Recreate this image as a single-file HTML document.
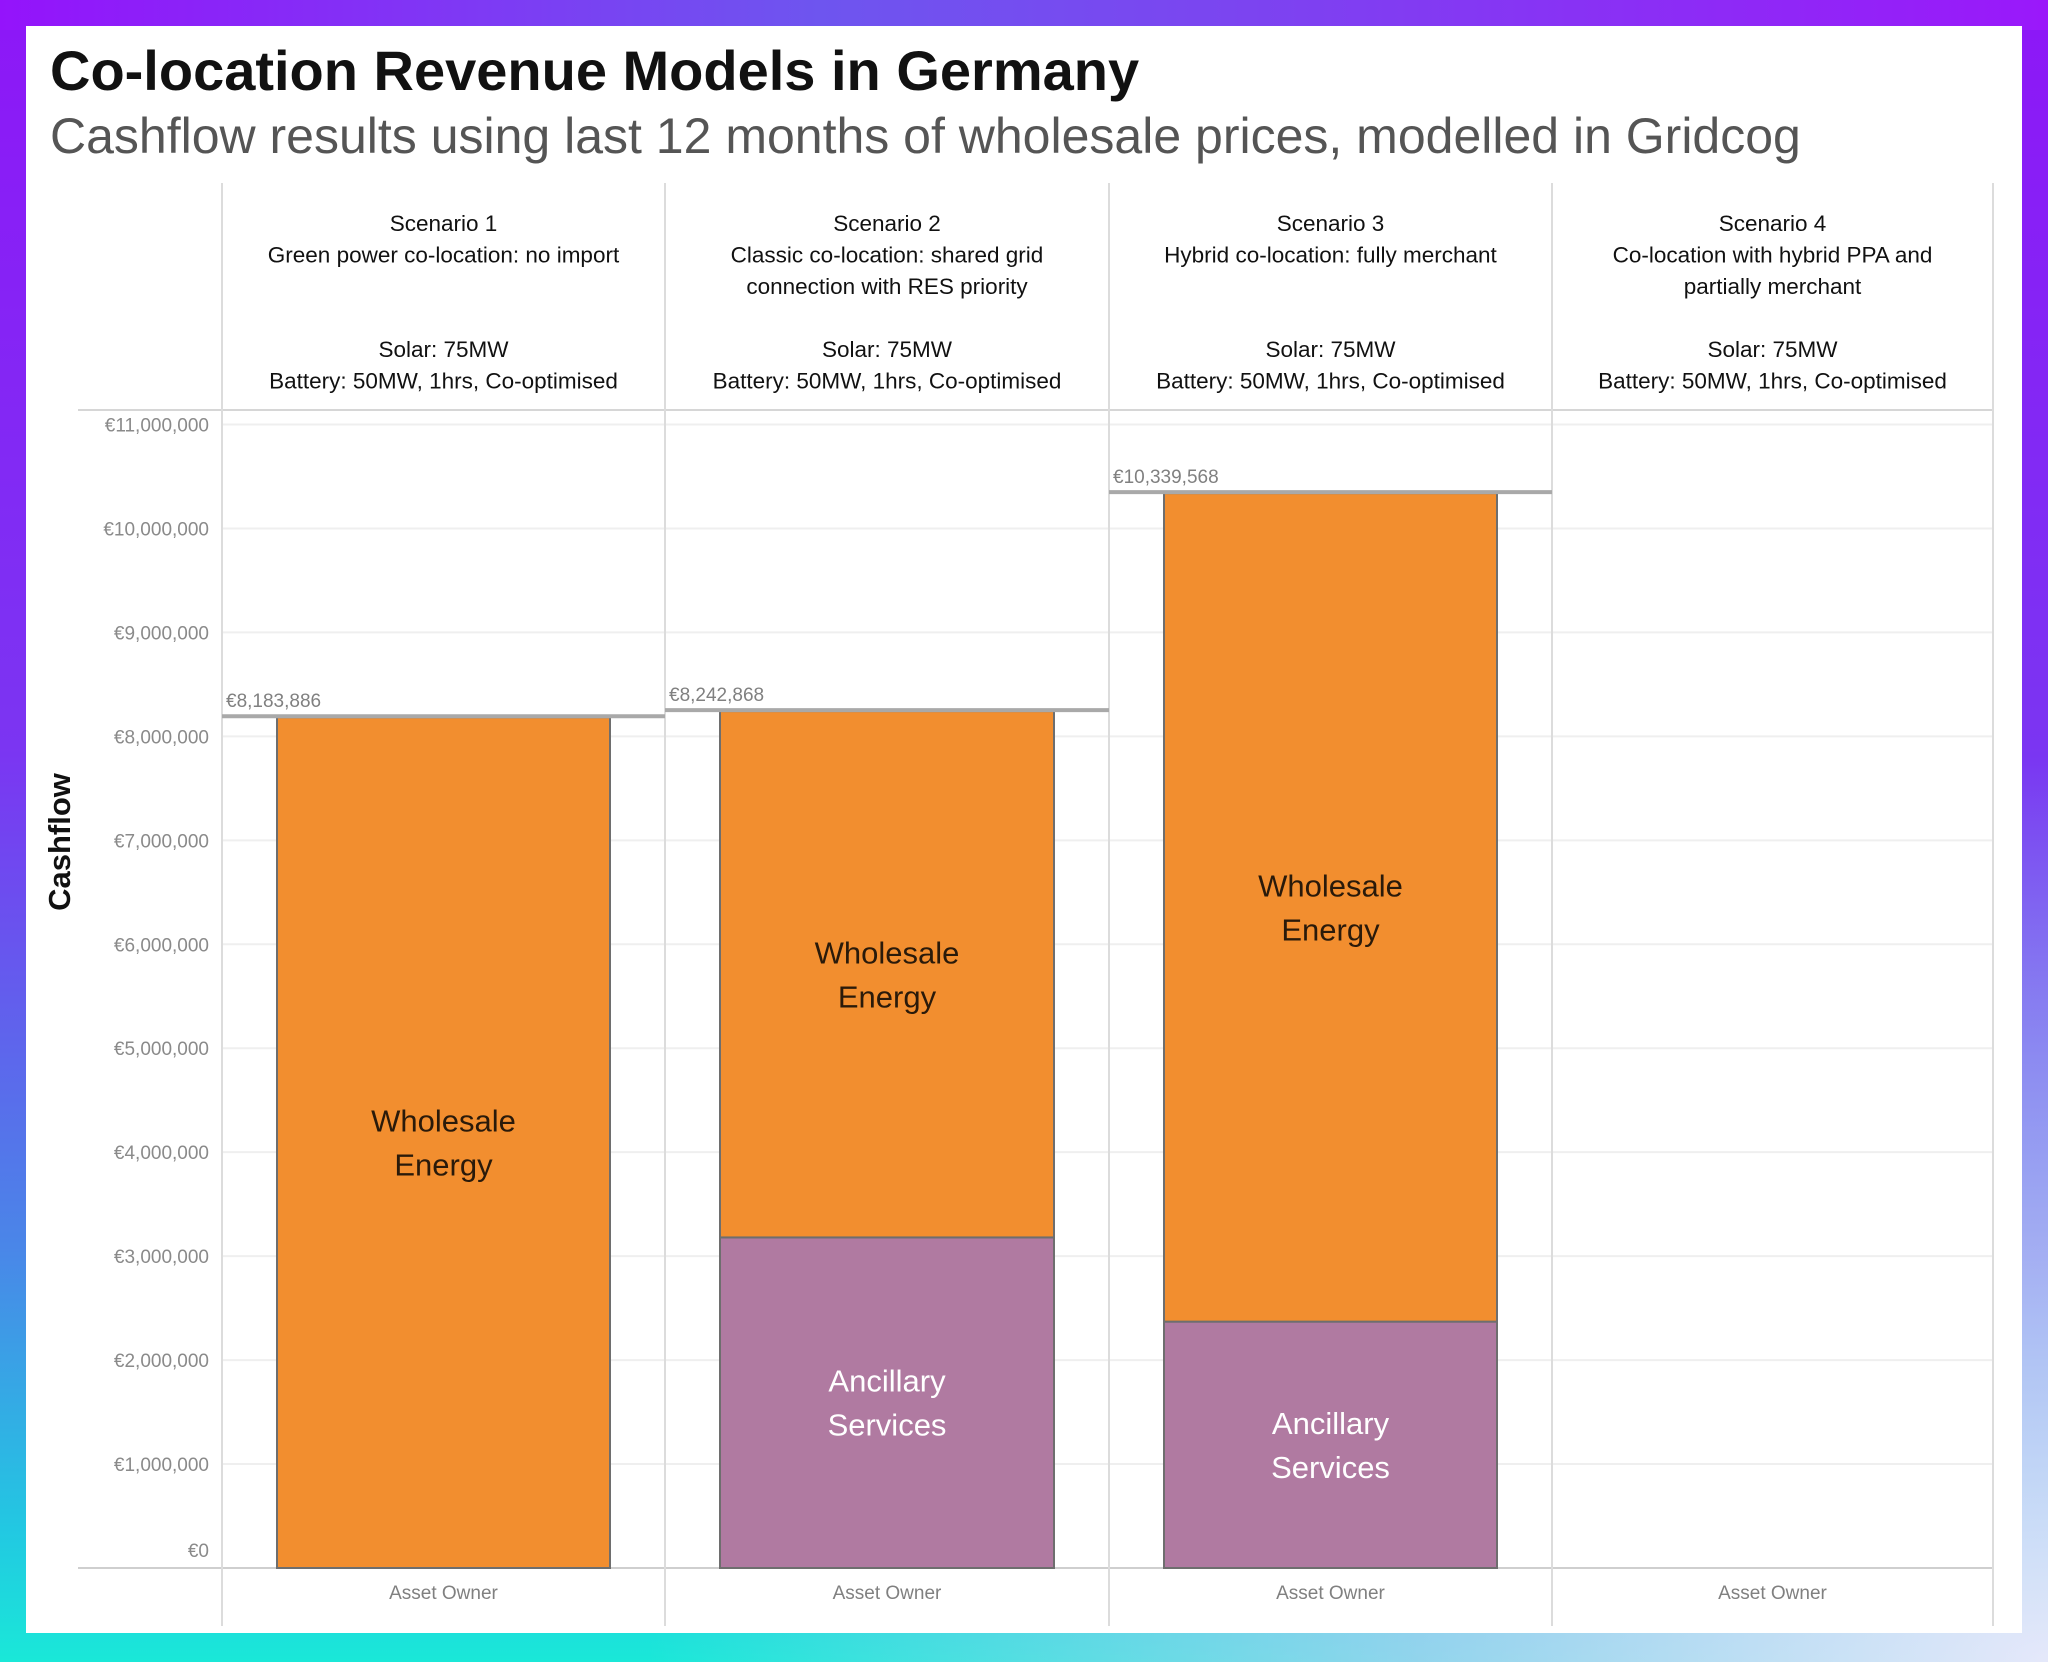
<!DOCTYPE html>
<html><head><meta charset="utf-8">
<style>
html,body{margin:0;padding:0;}
body{width:2048px;height:1662px;position:relative;overflow:hidden;font-family:"Liberation Sans",sans-serif;
background:linear-gradient(180deg,#8d17f7 0%,#7b35f2 45%,#4a86e8 75%,#22c8e2 92%,#1ae8d8 100%);}
#rightglow{position:absolute;left:0;top:0;width:2048px;height:1662px;
background:radial-gradient(ellipse 1400px 900px at 100% 100%,rgba(240,232,252,0.95) 0%,rgba(225,200,250,0.6) 45%,rgba(200,150,250,0) 100%);}
#topbar{position:absolute;left:0;top:0;width:2048px;height:30px;background:linear-gradient(90deg,#9413fb 0%,#6e55ef 40%,#7b45f0 60%,#9a18fa 100%);}
#panel{position:absolute;left:26px;top:26px;width:1996px;height:1607px;background:#fff;}
svg{position:absolute;left:0;top:0;}
</style></head>
<body>
<div id="rightglow"></div>
<div id="topbar"></div>
<div id="panel"></div>
<svg id="chart" width="2048" height="1662">
<text x="50" y="90" font-size="56" font-weight="bold" fill="#111">Co-location Revenue Models in Germany</text>
<text x="50" y="153" font-size="50" fill="#555">Cashflow results using last 12 months of wholesale prices, modelled in Gridcog</text>
<text transform="translate(70,842) rotate(-90)" text-anchor="middle" font-size="31" font-weight="bold" fill="#111">Cashflow</text>
</svg>
<script>
const scenarioTitles=["Scenario 1","Scenario 2","Scenario 3","Scenario 4"];
const scenarioDescs=[["Green power co-location: no import"],["Classic co-location: shared grid","connection with RES priority"],["Hybrid co-location: fully merchant"],["Co-location with hybrid PPA and","partially merchant"]];
const solarLine="Solar: 75MW";
const batteryLine="Battery: 50MW, 1hrs, Co-optimised";
const categoryLabels=["Asset Owner","Asset Owner","Asset Owner","Asset Owner"];
const ancillary=[0,3180000,2370000,null];
const wholesale=[8183886,5062868,7969568,null];
const totals=[8183886,8242868,10339568,null];
const totalLabels=["€8,183,886","€8,242,868","€10,339,568",""];
const yTicks=[0,1000000,2000000,3000000,4000000,5000000,6000000,7000000,8000000,9000000,10000000,11000000];
const yTickLabels=["€0","€1,000,000","€2,000,000","€3,000,000","€4,000,000","€5,000,000","€6,000,000","€7,000,000","€8,000,000","€9,000,000","€10,000,000","€11,000,000"];

const NS="http://www.w3.org/2000/svg";
const svg=document.getElementById('chart');
function el(tag,attrs,parent){const e=document.createElementNS(NS,tag);for(const k in attrs)e.setAttribute(k,attrs[k]);(parent||svg).appendChild(e);return e;}
const colEdges=[222,665,1109,1552,1993];
const y0=1568, yTop=424.5, yMax=11000000;
function y(v){return y0-(v/yMax)*(y0-yTop);}
function colCenter(i){return (colEdges[i]+colEdges[i+1])/2;}
const barPad=55;

yTicks.forEach((t,i)=>{
  if(t>0){const g=el('line',{x1:222,x2:1993,y1:y(t),y2:y(t),stroke:'#efefef','stroke-width':2});
  
  }
  const ty=t===0?y(t)-18:y(t);
  const lab=el('text',{x:209,y:ty+7,'text-anchor':'end','font-size':19,fill:'#8a8a8a'});
  lab.textContent=yTickLabels[i];
  
  
});
let l=el('line',{x1:78,x2:1993,y1:410,y2:410,stroke:'#d6d6d6','stroke-width':2});


l=el('line',{x1:78,x2:1993,y1:y0,y2:y0,stroke:'#cfcfcf','stroke-width':2});


colEdges.forEach(x=>{const v=el('line',{x1:x,x2:x,y1:183,y2:1626,stroke:'#dcdcdc','stroke-width':2});

});

scenarioTitles.forEach((t,i)=>{
  const cx=colCenter(i);
  const lines=[t,...scenarioDescs[i]];
  lines.forEach((s,j)=>{const tx=el('text',{x:cx,y:231+j*31.5,'text-anchor':'middle','font-size':22.5,fill:'#111'});tx.textContent=s;
  
  });
  [solarLine,batteryLine].forEach((s,j)=>{const tx=el('text',{x:cx,y:357+j*31.5,'text-anchor':'middle','font-size':22.5,fill:'#111'});tx.textContent=s;
  
  });
  const cl=el('text',{x:cx,y:1599,'text-anchor':'middle','font-size':19,fill:'#808080'});cl.textContent=categoryLabels[i];
  
  
});

function segLabel(lines,cx,cy,color,name){
  lines.forEach((s,j)=>{const t=el('text',{x:cx,y:cy+(j-(lines.length-1)/2)*44+11,'text-anchor':'middle','font-size':31,fill:color});t.textContent=s;
  
  });
}
totals.forEach((tot,i)=>{
  if(tot===null)return;
  const x1=colEdges[i]+barPad, x2=colEdges[i+1]-barPad;
  const a=ancillary[i]||0, w=wholesale[i];
  if(a>0){
    const r=el('rect',{x:x1,y:y(a),width:x2-x1,height:y0-y(a),fill:'#b07aa1',stroke:'#6e6e6e','stroke-width':2});
    
    
    segLabel(['Ancillary','Services'],(x1+x2)/2,(y(a)+y0)/2,'#fff','bar-label-ancillary');
  }
  const r2=el('rect',{x:x1,y:y(a+w),width:x2-x1,height:y(a)-y(a+w),fill:'#f28e2f',stroke:'#6e6e6e','stroke-width':2});
  
  
  segLabel(['Wholesale','Energy'],(x1+x2)/2,(y(a+w)+y(a))/2,'#2a1a0a','bar-label-wholesale');
  const rl=el('line',{x1:colEdges[i],x2:colEdges[i+1],y1:y(tot)-1,y2:y(tot)-1,stroke:'#a9a9a9','stroke-width':4});
  
  
  const tl=el('text',{x:colEdges[i]+4,y:y(tot)-10,'font-size':19,fill:'#808080'});tl.textContent=totalLabels[i];
  
  
});
</script>
</body></html>
